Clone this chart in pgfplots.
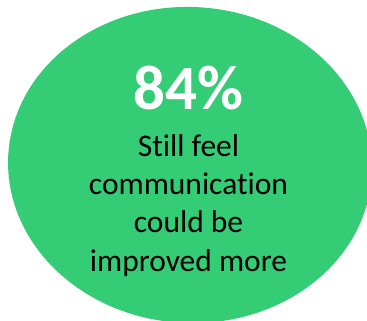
\documentclass[border=0pt]{standalone}
\usepackage{fontspec}
\setmainfont{Carlito}[Ligatures=NoCommon]
\usepackage{pgfplots}
\pgfplotsset{compat=1.18}
\definecolor{bubble}{RGB}{53,204,118}
\begin{document}
\begin{tikzpicture}
\begin{axis}[
  width=367bp, height=321bp, scale only axis,
  xmin=0, xmax=367, ymin=0, ymax=321,
  hide axis, clip=true,
]
\fill[bubble] (axis cs:190,156) ellipse [x radius=182bp, y radius=158bp, rotate=-3];
\node[anchor=base, text=white, font={\fontsize{63bp}{70bp}\selectfont\bfseries}] at (axis cs:188.5,211) {84\%};
\node[anchor=base, text=black, font={\fontsize{31.5bp}{38bp}\selectfont}] at (axis cs:188.5,164.3) {Still feel};
\node[anchor=base, text=black, font={\fontsize{31.5bp}{38bp}\selectfont}] at (axis cs:188.5,126.3) {communication};
\node[anchor=base, text=black, font={\fontsize{31.5bp}{38bp}\selectfont}] at (axis cs:188.5,88) {could be};
\node[anchor=base, text=black, font={\fontsize{31.5bp}{38bp}\selectfont}] at (axis cs:188.5,49.5) {improved more};
\end{axis}
\pgfresetboundingbox
\path (current axis.south west) rectangle (current axis.north east);
\end{tikzpicture}
\end{document}
